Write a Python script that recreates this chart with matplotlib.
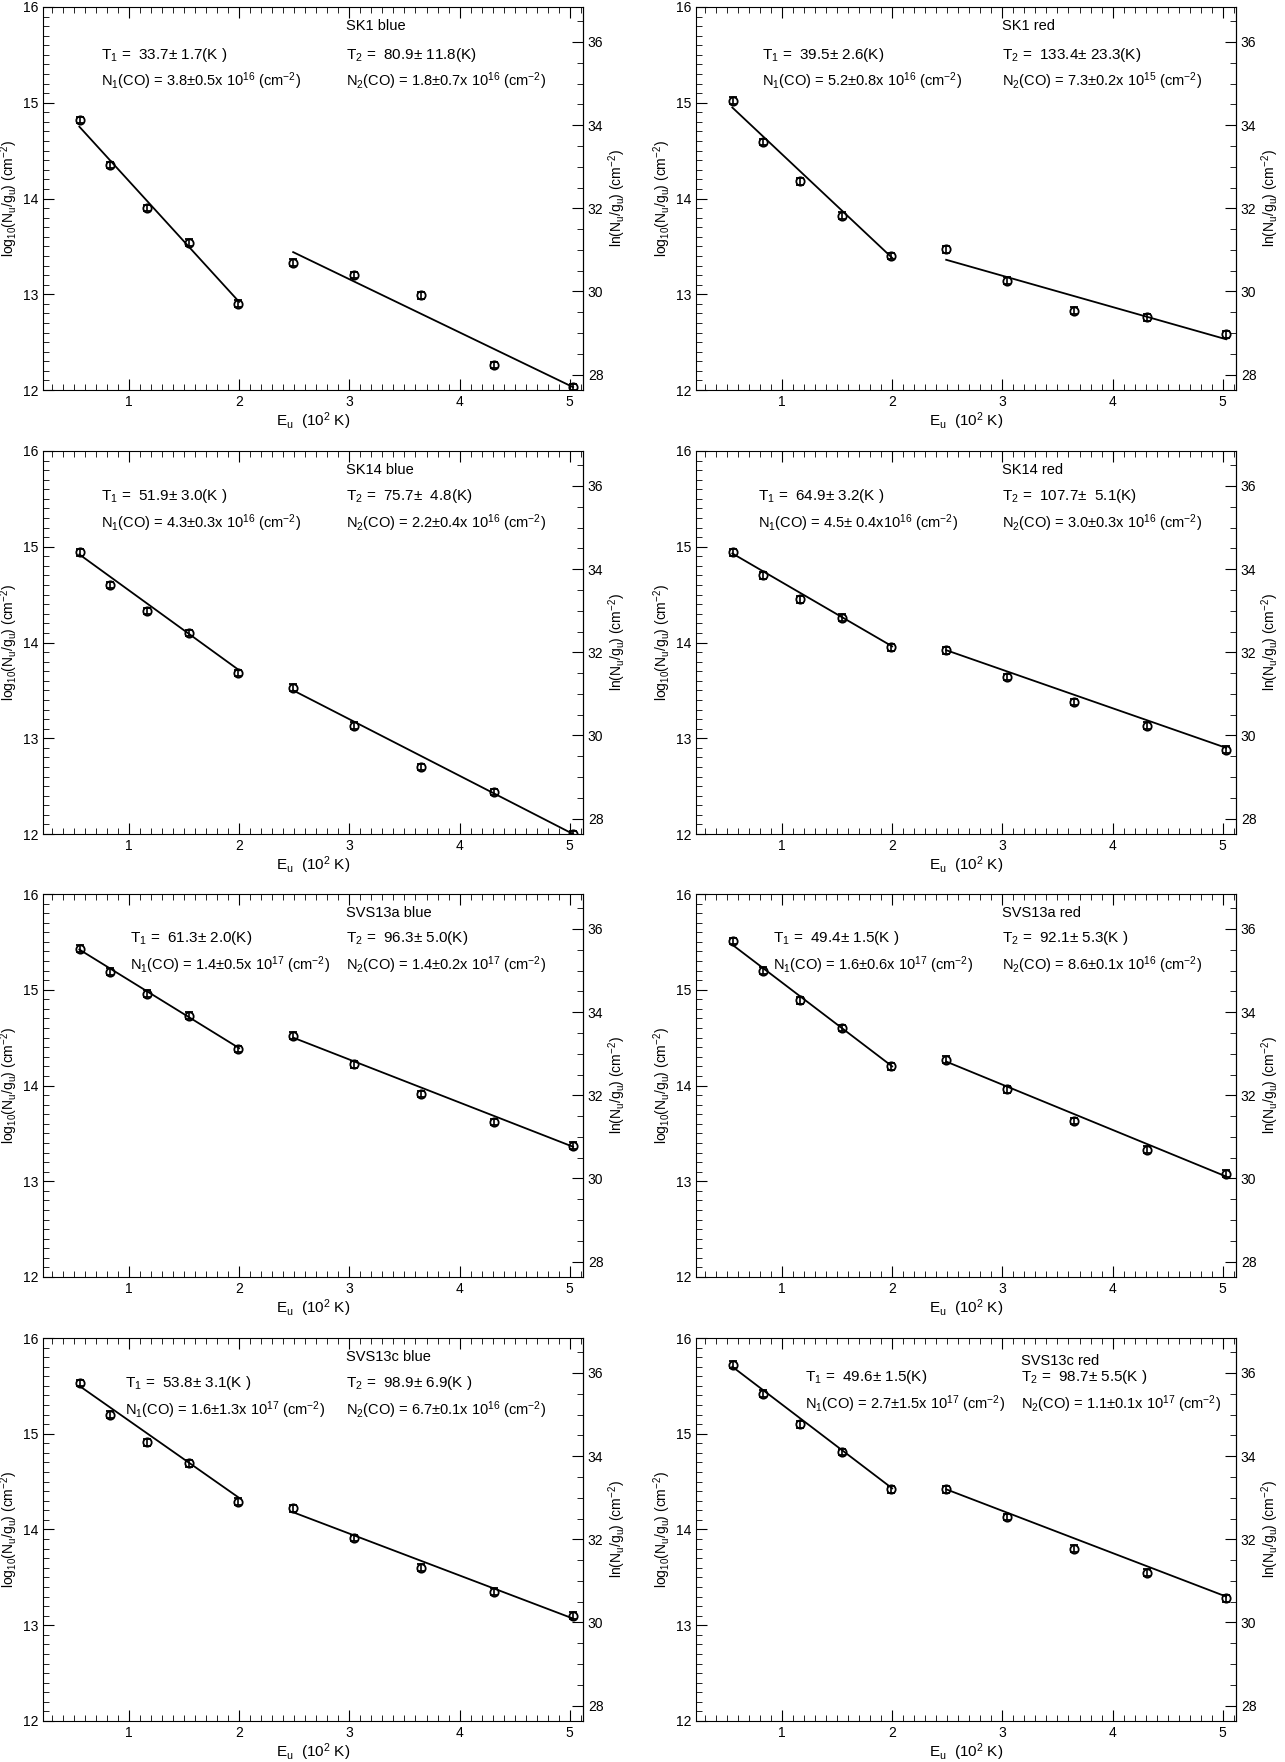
import numpy as np
import matplotlib
matplotlib.use("Agg")
import matplotlib.pyplot as plt
from matplotlib.ticker import MultipleLocator

plt.rcParams['font.family'] = ['Liberation Sans', 'DejaVu Sans']
plt.rcParams['mathtext.default'] = 'regular'

eu = [0.553, 0.830, 1.162, 1.549, 1.991, 2.489, 3.042, 3.650, 4.313, 5.031]

titles = ["SK1 blue", "SK1 red", "SK14 blue", "SK14 red",
          "SVS13a blue", "SVS13a red", "SVS13c blue", "SVS13c red"]
logN = [
    [14.82, 14.35, 13.90, 13.54, 12.90, 13.33, 13.20, 12.99, 12.26, 12.03],
    [15.02, 14.59, 14.18, 13.82, 13.40, 13.47, 13.14, 12.83, 12.76, 12.58],
    [14.94, 14.60, 14.33, 14.10, 13.68, 13.53, 13.13, 12.70, 12.44, 12.00],
    [14.94, 14.70, 14.45, 14.26, 13.95, 13.92, 13.64, 13.38, 13.13, 12.88],
    [15.43, 15.19, 14.96, 14.73, 14.38, 14.52, 14.22, 13.91, 13.62, 13.37],
    [15.51, 15.20, 14.89, 14.60, 14.20, 14.27, 13.96, 13.63, 13.33, 13.08],
    [15.53, 15.20, 14.91, 14.69, 14.29, 14.22, 13.91, 13.60, 13.35, 13.10],
    [15.72, 15.42, 15.10, 14.81, 14.42, 14.42, 14.13, 13.80, 13.55, 13.28],
]
fit1_x = [0.55, 2.0]
fit2_x = [2.49, 5.03]
fit1 = [(14.75, 12.92), (14.95, 13.38), (14.92, 13.71), (14.93, 13.96),
        (15.42, 14.39), (15.47, 14.20), (15.50, 14.33), (15.70, 14.43)]
fit2 = [(13.44, 12.03), (13.36, 12.53), (13.50, 12.00), (13.92, 12.90),
        (14.50, 13.36), (14.25, 13.05), (14.18, 13.07), (14.42, 13.30)]

T1 = ["T$_1$ =  33.7± 1.7(K )", "T$_1$ =  39.5± 2.6(K)", "T$_1$ =  51.9± 3.0(K )",
      "T$_1$ =  64.9± 3.2(K )", "T$_1$ =  61.3± 2.0(K)", "T$_1$ =  49.4± 1.5(K )",
      "T$_1$ =  53.8± 3.1(K )", "T$_1$ =  49.6± 1.5(K)"]
T2 = ["T$_2$ =  80.9± 11.8(K)", "T$_2$ =  133.4± 23.3(K)", "T$_2$ =  75.7±  4.8(K)",
      "T$_2$ =  107.7±  5.1(K)", "T$_2$ =  96.3± 5.0(K)", "T$_2$ =  92.1± 5.3(K )",
      "T$_2$ =  98.9± 6.9(K )", "T$_2$ =  98.7± 5.5(K )"]
N1 = ["3.8±0.5x 10$^{16}$", "5.2±0.8x 10$^{16}$", "4.3±0.3x 10$^{16}$",
      "4.5± 0.4x10$^{16}$", "1.4±0.5x 10$^{17}$", "1.6±0.6x 10$^{17}$",
      "1.6±1.3x 10$^{17}$", "2.7±1.5x 10$^{17}$"]
N2 = ["1.8±0.7x 10$^{16}$", "7.3±0.2x 10$^{15}$", "2.2±0.4x 10$^{16}$",
      "3.0±0.3x 10$^{16}$", "1.4±0.2x 10$^{17}$", "8.6±0.1x 10$^{16}$",
      "6.7±0.1x 10$^{16}$", "1.1±0.1x 10$^{17}$"]
txt1_x = [0.75, 0.82, 0.75, 0.78, 1.01, 0.92, 0.96, 1.21]
txt2_x = [2.97, 3.0, 2.97, 3.0, 2.97, 3.0, 2.97, 3.17]
txt_y = [15.5, 15.5, 15.53, 15.53, 15.54, 15.54, 15.53, 15.59]
lab_x = [2.97, 3.0, 2.97, 3.0, 2.97, 3.0, 2.97, 3.17]
lab_y = [15.8, 15.8, 15.8, 15.8, 15.8, 15.8, 15.8, 15.76]

W, H = 1285, 1762
fig = plt.figure(figsize=(W/100, H/100), dpi=100)
lefts = [43, 696]
width = 540
tops = [7, 451, 894, 1338]
height = 383

LN10 = np.log(10)
for i in range(8):
    r, c = divmod(i, 2)
    ax = fig.add_axes([lefts[c]/W, 1-(tops[r]+height)/H, width/W, height/H])
    ax.set_xlim(0.22, 5.12)
    ax.set_ylim(12, 16)
    ax.errorbar(eu, logN[i], yerr=0.035, fmt='o', ms=6, mfc='none', mec='k',
                mew=1.3, ecolor='k', elinewidth=1.2, capsize=3, color='k')
    ax.plot(fit1_x, fit1[i], color='k', lw=1.3)
    ax.plot(fit2_x, fit2[i], color='k', lw=1.3)
    ax.xaxis.set_major_locator(MultipleLocator(1))
    ax.xaxis.set_minor_locator(MultipleLocator(0.1))
    ax.yaxis.set_major_locator(MultipleLocator(1))
    ax.yaxis.set_minor_locator(MultipleLocator(0.1))
    ax.tick_params(which='both', direction='in', top=True, labelsize=10)
    ax.tick_params(which='major', length=8)
    ax.tick_params(which='minor', length=4)
    ax.set_xlabel("E$_u$  (10$^2$ K)", fontsize=11, labelpad=1)
    ax.set_ylabel("log$_{10}$(N$_u$/g$_u$) (cm$^{-2}$)", fontsize=10, labelpad=2)
    sec = ax.secondary_yaxis('right', functions=(lambda y: y*LN10, lambda y: y/LN10))
    sec.yaxis.set_major_locator(MultipleLocator(2))
    sec.yaxis.set_minor_locator(MultipleLocator(0.5))
    sec.tick_params(which='both', direction='in', labelsize=10)
    sec.tick_params(which='major', length=8)
    sec.tick_params(which='minor', length=4)
    sec.set_ylabel("ln(N$_u$/g$_u$) (cm$^{-2}$)", fontsize=10, labelpad=2)
    ax.text(lab_x[i], lab_y[i], titles[i], fontsize=10.5, va='center')
    ax.text(txt1_x[i], txt_y[i], T1[i], fontsize=11, va='center')
    ax.text(txt2_x[i], txt_y[i], T2[i], fontsize=11, va='center')
    ax.text(txt1_x[i], txt_y[i]-0.28, "N$_1$(CO) = " + N1[i] + " (cm$^{-2}$)", fontsize=10.5, va='center')
    ax.text(txt2_x[i], txt_y[i]-0.28, "N$_2$(CO) = " + N2[i] + " (cm$^{-2}$)", fontsize=10.5, va='center')

fig.savefig("out.png", dpi=100)
